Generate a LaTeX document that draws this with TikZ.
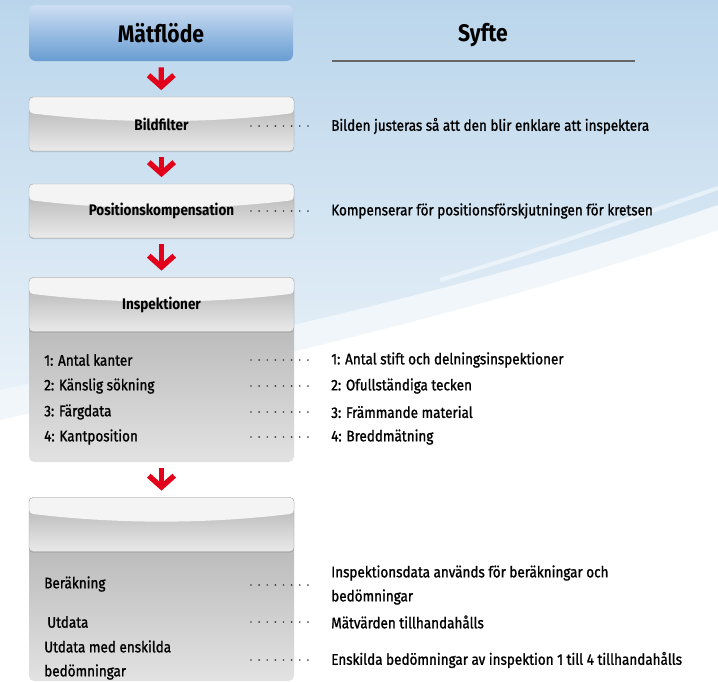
\documentclass[tikz,border=0pt]{standalone}
\usepackage{fontspec}
\setmainfont{Fira Sans}[FakeStretch=0.88]
\newfontfamily\medfont{Fira Sans}[FakeStretch=0.88, FakeBold=1.2]
\usetikzlibrary{positioning}
\usetikzlibrary{arrows.meta, shadows}

\definecolor{bgtop}{RGB}{186,213,235}
\definecolor{bgmid}{RGB}{232,241,248}
\definecolor{mftop}{RGB}{205,222,243}
\definecolor{mfbot}{RGB}{104,157,210}
\definecolor{hdtop}{RGB}{176,176,176}
\definecolor{hdbot}{RGB}{234,234,234}
\definecolor{hilite}{RGB}{244,244,244}
\definecolor{bdtop}{RGB}{186,186,186}
\definecolor{bdbot}{RGB}{226,226,226}
\definecolor{arrowred}{RGB}{226,0,26}
\definecolor{dotgray}{RGB}{60,60,60}

\tikzset{
  grayhead/.style={rectangle, rounded corners=3pt, minimum width=198.75pt, minimum height=40.5pt,
    top color=hdtop, bottom color=hdbot, draw=black!35, line width=0.3pt,
    drop shadow={shadow xshift=0pt, shadow yshift=-0.8pt, opacity=0.35},
    font=\fontsize{11.5}{14}\selectfont\bfseries,
    path picture={\fill[hilite] (path picture bounding box.north west) -- (path picture bounding box.north east)
      -- ([yshift=-12pt]path picture bounding box.north east)
      .. controls ([xshift=-66pt,yshift=-20pt]path picture bounding box.north east)
      and ([xshift=66pt,yshift=-20pt]path picture bounding box.north west)
      .. ([yshift=-12pt]path picture bounding box.north west) -- cycle;}},
  graybody/.style={top color=bdtop, bottom color=bdbot, rounded corners=4pt},
  flowarrow/.style={arrowred, line width=4pt, -{Straight Barb[length=8.5pt,width=19pt]},
    shorten <=4.5pt, shorten >=5pt},
  leader/.style={dotgray, line width=1.4pt, line cap=round, dash pattern=on 0pt off 6.1pt, shorten >=11.25pt},
  item/.style={anchor=west, inner sep=0pt, align=left, font=\fontsize{11.5}{18}\selectfont\medfont},
  desc/.style={item}
}

\begin{document}
\begin{tikzpicture}[x=0.75pt,y=-0.75pt]
\useasboundingbox (0,0) rectangle (718,682);
% background
\fill[white] (0,0) rectangle (718,682);
\shade[top color=bgtop, bottom color=bgmid] (0,0) -- (718,0) -- (718,205) .. controls (560,260) and (380,310) .. (0,390) -- cycle;
\fill[bgmid, opacity=0.6] (718,205) .. controls (560,260) and (380,310) .. (0,390) -- (0,420) .. controls (380,335) and (560,285) .. (718,230) -- cycle;
\draw[white, line width=3pt, opacity=0.5] (718,188) .. controls (620,222) and (540,250) .. (440,280);

% headings
\node[rectangle, rounded corners=5pt, minimum width=198pt, minimum height=42pt, top color=mftop, bottom color=mfbot,
  font=\fontsize{18}{20}\selectfont\bfseries] (mf) at (161,33) {Mätflöde};
\node[font=\fontsize{18}{20}\selectfont\bfseries] (syfte) at (483,35) {Syfte};
\draw[black!60, line width=1.2pt] (332,61) -- (635,61);

% flow boxes
\shade[graybody] (29,324) rectangle (294,462);
\shade[graybody] (29,544) rectangle (294,681);
\node[grayhead] (bild) at (161.5,124) {Bildfilter};
\node[grayhead] (pos) at (161.5,211) {Positionskompensation};
\node[grayhead] (insp) at (161.5,304.5) {Inspektioner};
\node[grayhead] (res) at (161.5,524.5) {};
\coordinate (inspend) at (161.5,462);

\draw[flowarrow] (mf) -- (bild);
\draw[flowarrow] (bild) -- (pos);
\draw[flowarrow] (pos) -- (insp);
\draw[flowarrow] (inspend) -- (res);

% left items
\node[item] (i1) at (44,360) {1: Antal kanter};
\node[item] (i2) at (44,386) {2: Känslig sökning};
\node[item] (i3) at (44,412) {3: Färgdata};
\node[item] (i4) at (44,437) {4: Kantposition};
\node[item] (r1) at (44,584) {Beräkning};
\node[item] (r2) at (47,622) {Utdata};
\node[item] (r3) at (44,660) {Utdata med enskilda\\bedömningar};

% purposes
\node[desc] (dbild) at (331,126) {Bilden justeras så att den blir enklare att inspektera};
\node[desc] (dpos) at (331,211) {Kompenserar för positionsförskjutningen för kretsen};
\node[desc] (d1) at (331,360) {1: Antal stift och delningsinspektioner};
\node[desc] (d2) at (331,386) {2: Ofullständiga tecken};
\node[desc] (d3) at (331,412) {3: Främmande material};
\node[desc] (d4) at (331,437) {4: Breddmätning};
\node[desc] (e1) at (331,585) {Inspektionsdata används för beräkningar och\\bedömningar};
\node[desc] (e2) at (331,622) {Mätvärden tillhandahålls};
\node[desc] (e3) at (331,660) {Enskilda bedömningar av inspektion 1 till 4 tillhandahålls};

% leaders
\coordinate (lx) at (251,0);
\foreach \d in {dbild,dpos,d1,d2,d3,d4,e1,e2,e3}
  \draw[leader] (\d.west -| lx) -- (\d.west);

\end{tikzpicture}
\end{document}
